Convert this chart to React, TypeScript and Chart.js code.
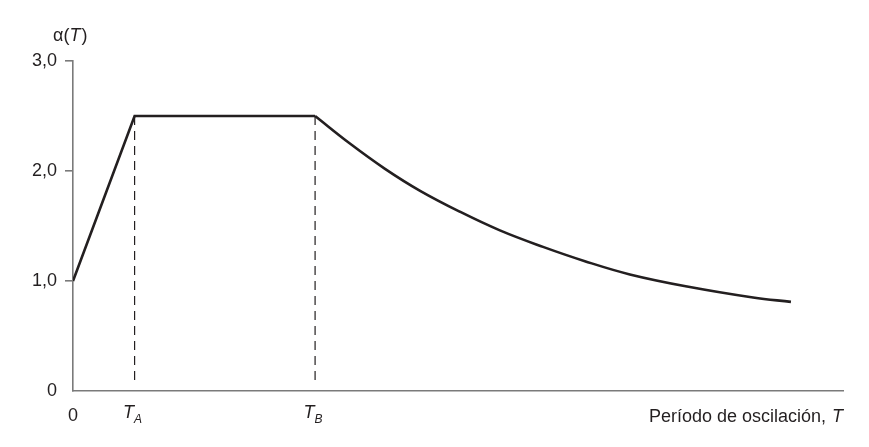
import React, { useEffect, useRef } from "react";
import { Chart, registerables } from "chart.js";

Chart.register(...registerables);

// Rising branch and plateau: T (arbitrary units) and alpha(T)
const riseT = [0, 0.2, 0.786];
const riseAlpha = [1.0, 2.5, 2.5];

// Descending branch
const decayT = [0.786, 0.899, 1.013, 1.127, 1.256, 1.386, 1.526, 1.662, 1.808, 1.994, 2.208, 2.331];
const decayAlpha = [2.5, 2.25, 2.02, 1.82, 1.63, 1.46, 1.31, 1.18, 1.06, 0.95, 0.85, 0.81];

// Characteristic periods
const periodMarks = [0.2, 0.786];
const periodLabels = ["A", "B"];
const dashBottom = 0.07;

const yTicks = [0, 1, 2, 3];
const xMax = 2.5;

const FONT = "'Liberation Sans', Arial, Helvetica, sans-serif";
const FS = 18;
const TEXT = "#231f20";
const AXIS = "#7a7a7a";

const labelsPlugin = {
  id: "customLabels",
  afterDraw(chart: any) {
    const ctx = chart.ctx;
    const xs = chart.scales.x;
    const base = 421;
    ctx.save();
    ctx.fillStyle = TEXT;
    ctx.textBaseline = "alphabetic";
    // "0" at origin
    ctx.font = `${FS}px ${FONT}`;
    ctx.textAlign = "center";
    ctx.fillText("0", xs.getPixelForValue(0), base);
    // T_A, T_B
    ctx.textAlign = "left";
    periodMarks.forEach((v, i) => {
      const px = xs.getPixelForValue(v);
      ctx.font = `italic ${FS}px ${FONT}`;
      const wT = ctx.measureText("T").width;
      ctx.font = `italic 12px ${FONT}`;
      const wS = ctx.measureText(periodLabels[i]).width;
      const start = px - 2 - (wT + wS) / 2;
      ctx.font = `italic ${FS}px ${FONT}`;
      ctx.fillText("T", start, base - 3);
      ctx.font = `italic 12px ${FONT}`;
      ctx.fillText(periodLabels[i], start + wT, base + 2);
    });
    // axis title
    ctx.font = `italic ${FS}px ${FONT}`;
    const wT = ctx.measureText("T").width;
    ctx.textAlign = "right";
    ctx.fillText("T", chart.chartArea.right, base + 1);
    ctx.font = `${FS}px ${FONT}`;
    ctx.fillText("Período de oscilación, ", chart.chartArea.right - wT - 1, base + 1);
    // y title
    ctx.textAlign = "left";
    let x = 53;
    const yb = 41;
    ctx.font = `${FS}px ${FONT}`;
    ctx.fillText("α(", x, yb);
    x += ctx.measureText("α(").width;
    ctx.font = `italic ${FS}px ${FONT}`;
    ctx.fillText("T", x, yb);
    x += ctx.measureText("T").width + 1;
    ctx.font = `${FS}px ${FONT}`;
    ctx.fillText(")", x, yb);
    ctx.restore();
  },
};

export default function App() {
  const ref = useRef<HTMLCanvasElement | null>(null);
  useEffect(() => {
    if (!ref.current) return;
    const risePts = riseT.map((t, i) => ({ x: t, y: riseAlpha[i] }));
    const decayPts = decayT.map((t, i) => ({ x: t, y: decayAlpha[i] }));
    const dashSets = periodMarks.map((v, i) => ({
      label: "T" + periodLabels[i],
      data: [
        { x: v, y: riseAlpha[1] },
        { x: v, y: dashBottom },
      ],
      borderColor: "#231f20",
      borderWidth: 1.2,
      borderDash: [9, 6],
      pointRadius: 0,
      fill: false,
    }));
    const chart = new Chart(ref.current, {
      type: "line",
      data: {
        datasets: [
          {
            label: "rise",
            data: risePts,
            borderColor: "#231f20",
            borderWidth: 2.6,
            pointRadius: 0,
            tension: 0,
            fill: false,
            borderJoinStyle: "miter",
          },
          {
            label: "decay",
            data: decayPts,
            borderColor: "#231f20",
            borderWidth: 2.6,
            pointRadius: 0,
            tension: 0.4,
            fill: false,
          },
          ...dashSets,
        ] as any,
      },
      options: {
        responsive: false,
        animation: false,
        layout: { padding: { left: 0, right: 26, top: 61, bottom: 0 } },
        plugins: { legend: { display: false }, tooltip: { enabled: false }, title: { display: false } },
        scales: {
          x: {
            type: "linear",
            min: 0,
            max: xMax,
            ticks: { display: false },
            grid: { display: false },
            border: { display: true, color: AXIS, width: 1.6 },
            afterFit: (s: any) => {
              s.height = 56;
            },
          },
          y: {
            type: "linear",
            min: 0,
            max: 3,
            afterBuildTicks: (s: any) => {
              s.ticks = yTicks.map((v) => ({ value: v }));
            },
            ticks: {
              color: TEXT,
              font: { family: FONT, size: FS },
              padding: 8,
              callback: (v: any) => (v === 0 ? "0" : Number(v).toFixed(1).replace(".", ",")),
            },
            grid: {
              drawOnChartArea: false,
              tickLength: 8,
              lineWidth: 1.6,
              color: (c: any) => (c.tick && c.tick.value === 0 ? "rgba(0,0,0,0)" : AXIS),
            },
            border: { display: true, color: AXIS, width: 1.6 },
            afterFit: (s: any) => {
              s.width = 73;
            },
          },
        },
      },
      plugins: [labelsPlugin],
    });
    return () => chart.destroy();
  }, []);
  return (
    <div style={{ position: "absolute", left: 0, top: 0, width: 869, height: 447, background: "#fff" }}>
      <canvas ref={ref} width={869} height={447} style={{ display: "block" }} />
    </div>
  );
}
